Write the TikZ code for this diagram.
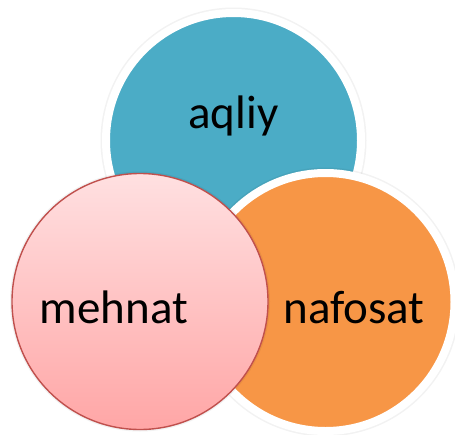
\documentclass[tikz,border=0pt]{standalone}
\usepackage{fontspec}
\setmainfont{Carlito}
\definecolor{cblue}{HTML}{4BACC6}
\definecolor{corange}{HTML}{F79646}
\definecolor{cpinktop}{HTML}{FFE0E1}
\definecolor{cpinkbot}{HTML}{FFA6A6}
\definecolor{cred}{HTML}{C0504D}
\begin{document}
\begin{tikzpicture}[x=1pt,y=-1pt,
  ringcircle/.style={circle, inner sep=0pt, outer sep=0pt, draw=white, line width=8pt},
  halo/.style={circle, inner sep=0pt, outer sep=0pt, fill=black, fill opacity=0.05},
  label/.style={font=\fontsize{47}{50}\selectfont, text=black, inner sep=0pt, anchor=base}]
\useasboundingbox (0,0) rectangle (455,434);
\fill[white] (0,0) rectangle (455,434);
% blue
\node[halo, minimum size=266pt] (bluehalo) at (233.5,140.5) {};
\node[ringcircle, fill=cblue, minimum size=255pt] (blue) at (233.5,140.5) {};
% orange
\node[halo, minimum size=269pt] (orangehalo) at (325.5,302) {};
\node[ringcircle, fill=corange, minimum size=258pt] (orange) at (325.5,302) {};
% pink
\node[halo, minimum size=260pt] (pinkhalo) at (140,301.5) {};
\node[circle, inner sep=0pt, outer sep=0pt, draw=cred, line width=1.4pt,
      top color=cpinktop, bottom color=cpinkbot, minimum size=256pt] (pink) at (140,301.5) {};
% labels
\node[label] (taqliy) at (233.5,128) {aqliy};
\node[label] (tmehnat) at (113.8,323) {mehnat};
\node[label] (tnafosat) at (354,323) {nafosat};
\end{tikzpicture}
\end{document}
